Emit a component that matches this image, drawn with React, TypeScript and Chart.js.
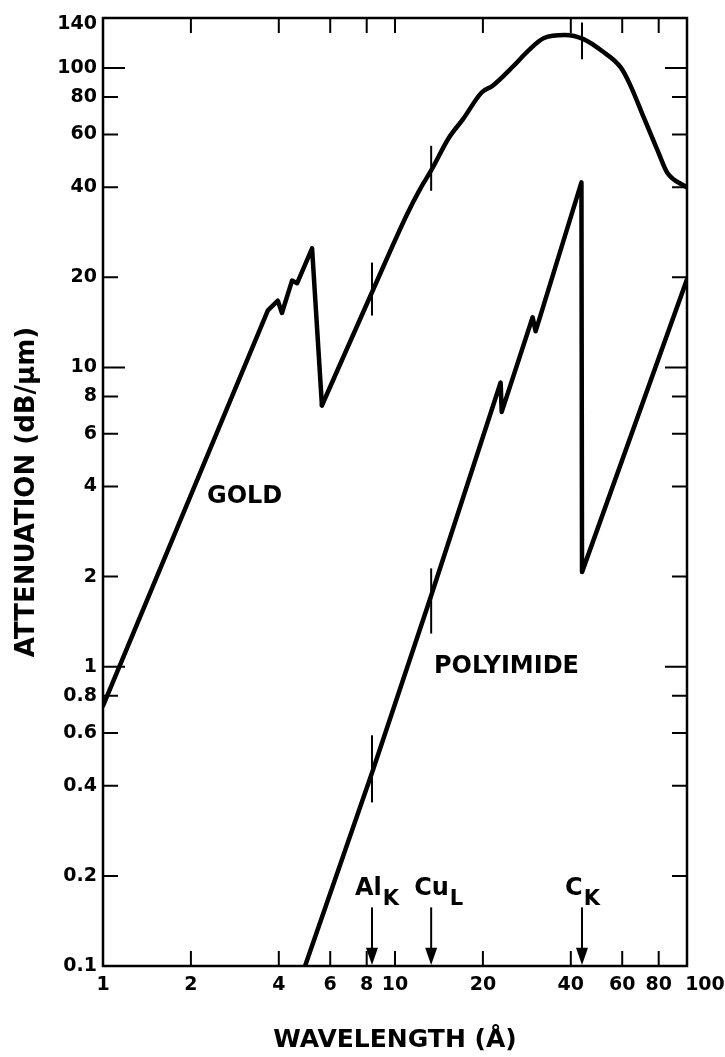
import React, { useEffect, useRef } from 'react';
import { Chart, registerables } from 'chart.js';

Chart.register(...registerables);

const FONT = "'DejaVu Sans', 'Liberation Sans', sans-serif";

// ---- Axis definition ----
const xTickValues = [1, 2, 4, 6, 8, 10, 20, 40, 60, 80, 100];
const yTickValues = [0.1, 0.2, 0.4, 0.6, 0.8, 1, 2, 4, 6, 8, 10, 20, 40, 60, 80, 100, 140];
const yMajorTicks = [1, 10, 100];
const xMin = 1;
const xMax = 100;
const yMin = 0.1;
const yMax = 147;

// ---- Gold: below the M edges (straight log-log segments) ----
const goldLowX = [1, 3.67, 3.97, 4.1, 4.44, 4.62, 5.2, 5.62];
const goldLowY = [0.74, 15.5, 16.7, 15.2, 19.5, 19.1, 25.0, 7.46];

// ---- Gold: above the M edge (smooth) ----
const goldHighX = [5.62, 8.4, 11.0, 12.2, 13.3, 15.3, 17.1, 19.8, 21.6, 25.5, 28.5, 32.4, 38.2, 44.2, 51.2, 59.3, 63.7, 71.1, 79.4, 85.5, 100];
const goldHighY = [7.46, 18.1, 32.5, 39.5, 45.5, 58.5, 67.5, 82.9, 87.3, 101.8, 114, 126, 129, 125, 114, 100.5, 88.4, 68.4, 52.9, 44.8, 39.9];

// ---- Polyimide ----
const polyX = [4.92, 8.36, 13.2, 23.0, 23.2, 29.6, 30.3, 43.5, 43.7, 100];
const polyY = [0.1, 0.445, 1.69, 8.9, 7.1, 14.7, 13.2, 41.5, 2.07, 19.7];

// ---- Characteristic X-ray lines ----
const lineNames = ['Al', 'Cu', 'C'];
const lineSubs = ['K', 'L', 'K'];
const lineWavelengths = [8.34, 13.3, 43.7];
const arrowTop = 0.157;
const arrowHeadBase = 0.115;
const lineLabelBase = 0.173;

// marker bars crossing the curves
const goldMarkX = [8.34, 13.3, 43.7];
const goldMarkLo = [14.9, 38.9, 107];
const goldMarkHi = [22.4, 55, 142];
const polyMarkX = [8.34, 13.3];
const polyMarkLo = [0.352, 1.29];
const polyMarkHi = [0.59, 2.13];

// ---- curve labels ----
const curveLabels = ['GOLD', 'POLYIMIDE'];
const curveLabelX = [2.27, 13.6];
const curveLabelY = [3.53, 0.955];

const pts = (xs: number[], ys: number[]) => xs.map((x, i) => ({ x, y: ys[i] }));

const curveStyle = {
  borderColor: '#000',
  borderWidth: 4.5,
  pointRadius: 0,
  fill: false,
  borderJoinStyle: 'round' as const,
  borderCapStyle: 'round' as const,
};
const markStyle = {
  borderColor: '#000',
  borderWidth: 2,
  pointRadius: 0,
  fill: false,
  tension: 0,
};

const framePlugin = {
  id: 'frameNotes',
  afterDatasetsDraw(chart: any) {
    const { ctx, chartArea: a, scales } = chart;
    const x = scales.x;
    const y = scales.y;
    ctx.save();
    ctx.strokeStyle = '#000';
    ctx.fillStyle = '#000';
    ctx.lineCap = 'butt';
    // frame
    ctx.lineWidth = 2.5;
    ctx.strokeRect(a.left, a.top, a.right - a.left, a.bottom - a.top);
    // inward ticks
    ctx.lineWidth = 2;
    ctx.beginPath();
    xTickValues.forEach((t) => {
      if (t <= xMin || t >= xMax) return;
      const px = x.getPixelForValue(t);
      ctx.moveTo(px, a.bottom);
      ctx.lineTo(px, a.bottom - 15);
      ctx.moveTo(px, a.top);
      ctx.lineTo(px, a.top + 15);
    });
    yTickValues.forEach((t) => {
      if (t <= yMin || t >= 140) return;
      const py = y.getPixelForValue(t);
      const len = yMajorTicks.includes(t) ? 22 : 15;
      ctx.moveTo(a.left, py);
      ctx.lineTo(a.left + len, py);
      ctx.moveTo(a.right, py);
      ctx.lineTo(a.right - len, py);
    });
    ctx.stroke();

    // arrows + labels for characteristic lines
    lineWavelengths.forEach((w, i) => {
      const px = x.getPixelForValue(w);
      const yTop = y.getPixelForValue(arrowTop);
      const yBase = y.getPixelForValue(arrowHeadBase);
      const yTip = y.getPixelForValue(yMin);
      ctx.lineWidth = 2;
      ctx.beginPath();
      ctx.moveTo(px, yTop);
      ctx.lineTo(px, yBase + 2);
      ctx.stroke();
      ctx.beginPath();
      ctx.moveTo(px - 6, yBase);
      ctx.lineTo(px + 6, yBase);
      ctx.lineTo(px, yTip - 1);
      ctx.closePath();
      ctx.fill();
      const by = y.getPixelForValue(lineLabelBase);
      ctx.textAlign = 'left';
      ctx.textBaseline = 'alphabetic';
      ctx.font = `bold 24px ${FONT}`;
      const lx = px - 17;
      ctx.fillText(lineNames[i], lx, by);
      const wMain = ctx.measureText(lineNames[i]).width;
      ctx.font = `bold 21px ${FONT}`;
      ctx.fillText(lineSubs[i], lx + wMain + 1, by + 10);
    });

    // curve labels
    ctx.font = `bold 24px ${FONT}`;
    ctx.textAlign = 'left';
    ctx.textBaseline = 'alphabetic';
    curveLabels.forEach((t, i) => {
      ctx.fillText(t, x.getPixelForValue(curveLabelX[i]), y.getPixelForValue(curveLabelY[i]));
    });
    ctx.restore();
  },
};

export default function App() {
  const ref = useRef<HTMLCanvasElement>(null);
  useEffect(() => {
    document.body.style.margin = '0';
    const canvas = ref.current!;
    const datasets: any[] = [
      { label: 'Gold', data: pts(goldLowX, goldLowY), tension: 0, ...curveStyle },
      { label: 'Gold ', data: pts(goldHighX, goldHighY), cubicInterpolationMode: 'monotone', ...curveStyle },
      { label: 'Polyimide', data: pts(polyX, polyY), tension: 0, ...curveStyle },
    ];
    goldMarkX.forEach((mx, i) => {
      datasets.push({ label: 'gm' + i, data: [{ x: mx, y: goldMarkLo[i] }, { x: mx, y: goldMarkHi[i] }], ...markStyle });
    });
    polyMarkX.forEach((mx, i) => {
      datasets.push({ label: 'pm' + i, data: [{ x: mx, y: polyMarkLo[i] }, { x: mx, y: polyMarkHi[i] }], ...markStyle });
    });

    const chart = new Chart(canvas, {
      type: 'line',
      data: { datasets },
      options: {
        animation: false,
        responsive: false,
        devicePixelRatio: 1,
        parsing: true,
        layout: { padding: { top: 18, right: 38, left: 0, bottom: 0 } },
        plugins: { legend: { display: false }, tooltip: { enabled: false } },
        scales: {
          x: {
            type: 'logarithmic',
            min: xMin,
            max: xMax,
            position: 'bottom',
            afterBuildTicks: (s: any) => {
              s.ticks = xTickValues.map((v) => ({ value: v }));
            },
            afterFit: (s: any) => {
              s.height = 91;
              s.paddingRight = 0;
              s.paddingLeft = 0;
            },
            grid: { display: false, drawTicks: false },
            border: { display: false },
            ticks: {
              autoSkip: false,
              maxRotation: 0,
              minRotation: 0,
              padding: 8,
              color: '#000',
              font: { family: FONT, size: 19, weight: 'bold' },
              callback: (v: any) => (Number(v) === 100 ? '\u2007\u2007\u2002100' : String(v)),
            },
            title: {
              display: true,
              text: 'WAVELENGTH (Å)',
              color: '#000',
              font: { family: FONT, size: 25, weight: 'bold' },
              padding: { top: 0, bottom: 2 },
            },
          },
          y: {
            type: 'logarithmic',
            min: yMin,
            max: yMax,
            position: 'left',
            afterBuildTicks: (s: any) => {
              s.ticks = yTickValues.map((v) => ({ value: v }));
            },
            afterFit: (s: any) => {
              s.width = 103;
            },
            grid: { display: false, drawTicks: false },
            border: { display: false },
            ticks: {
              autoSkip: false,
              padding: 6,
              color: '#000',
              font: { family: FONT, size: 19, weight: 'bold' },
              callback: (v: any) => String(v),
            },
            title: {
              display: true,
              text: 'ATTENUATION (dB/μm)',
              color: '#000',
              font: { family: FONT, size: 26, weight: 'bold' },
              padding: { top: 12, bottom: 0 },
            },
          },
        },
      },
      plugins: [framePlugin],
    });
    return () => chart.destroy();
  }, []);
  return (
    <div style={{ width: 725, height: 1057, background: '#fff' }}>
      <canvas ref={ref} width={725} height={1057} style={{ display: 'block', width: 725, height: 1057 }} />
    </div>
  );
}
